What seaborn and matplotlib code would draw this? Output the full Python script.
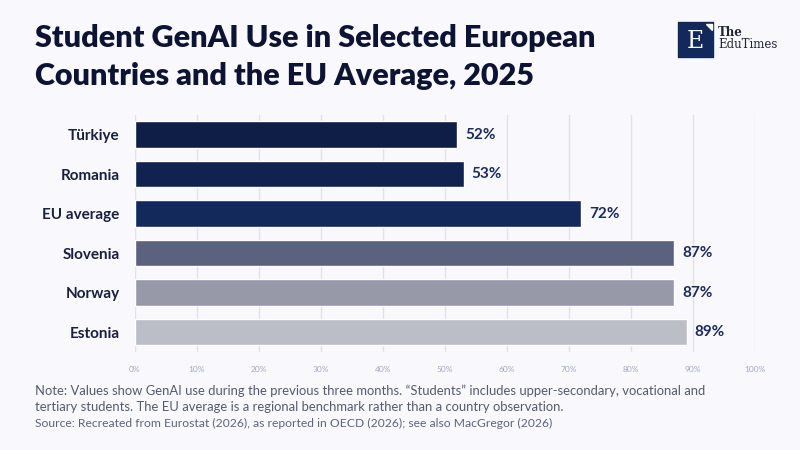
import pandas as pd
import matplotlib.pyplot as plt
import seaborn as sns
from matplotlib.patches import Rectangle, Polygon

countries = ['Türkiye', 'Romania', 'EU average', 'Slovenia', 'Norway', 'Estonia']
share = [52, 53, 72, 87, 87, 89]
bar_colors = ['#0e1e47', '#102350', '#13295c', '#5b627e', '#9799a8', '#bbbec6']
ticks = [0, 10, 20, 30, 40, 50, 60, 70, 80, 90, 100]

df = pd.DataFrame({'country': countries, 'share': share})

bg = '#f8f8fd'
sns.set_theme(style='white')
plt.rcParams['font.family'] = ['Lato', 'DejaVu Sans']

fig = plt.figure(figsize=(8, 4.5), dpi=100, facecolor=bg)
ax = fig.add_axes([0.16875, 0.218, 0.775, 0.527], facecolor=bg)

sns.barplot(data=df, x='share', y='country', hue='country', palette=bar_colors,
            order=countries, hue_order=countries, width=0.67, legend=False, ax=ax,
            saturation=1)

ax.set_xlim(0, 100)
ax.set_ylim(5.5, -0.5)
ax.set_xticks(ticks)
ax.set_xticklabels([f'{t}%' for t in ticks], fontsize=6, color='#a3a8c0')
ax.grid(axis='x', color='#e1e1ea', linewidth=1)
ax.set_axisbelow(True)
for s in ax.spines.values():
    s.set_visible(False)
ax.tick_params(axis='x', length=0, pad=10)
ax.tick_params(axis='y', length=0, pad=11)
for lab in ax.get_yticklabels():
    lab.set_fontweight('bold')
    lab.set_fontsize(11)
    lab.set_color('#1a1f3d')
ax.set_xlabel('')
ax.set_ylabel('')

for i, v in enumerate(share):
    ax.text(v + 1.3, i, f'{v}%', va='center', ha='left', fontsize=11,
            fontweight='bold', color='#1c2b5c')

fig.text(0.044, 0.915, 'Student GenAI Use in Selected European', fontsize=22,
         fontweight='heavy', color='#0d1433', va='center')
fig.text(0.044, 0.832, 'Countries and the EU Average, 2025', fontsize=22,
         fontweight='heavy', color='#0d1433', va='center')

# logo
fig.patches.append(Rectangle((678 / 800, 1 - 57 / 450), 35 / 800, 35 / 450,
                             transform=fig.transFigure, color='#13295c'))
fig.patches.append(Polygon([(706 / 800, 1 - 24 / 450), (712 / 800, 1 - 24 / 450),
                            (712 / 800, 1 - 30 / 450)], closed=True,
                           transform=fig.transFigure, color='white'))
fig.text(695 / 800, 1 - 41 / 450, 'E', fontsize=17, family='DejaVu Serif',
         color='white', ha='center', va='center')
fig.text(718 / 800, 1 - 32 / 450, 'The', fontsize=8.5, family='DejaVu Serif',
         fontweight='bold', color='#222436', va='center')
fig.text(718 / 800, 1 - 45 / 450, 'EduTimes', fontsize=8.5, family='DejaVu Serif',
         color='#222436', va='center')

fig.text(0.044, 1 - 391 / 450,
         'Note: Values show GenAI use during the previous three months. \u201cStudents\u201d includes upper-secondary, vocational and',
         fontsize=9.35, color='#545a70', va='center')
fig.text(0.044, 1 - 407 / 450,
         'tertiary students. The EU average is a regional benchmark rather than a country observation.',
         fontsize=9.35, color='#545a70', va='center')
fig.text(0.044, 1 - 423 / 450,
         'Source: Recreated from Eurostat (2026), as reported in OECD (2026); see also MacGregor (2026)',
         fontsize=8.7, color='#5d6382', va='center')

fig.savefig('out.png', dpi=100, facecolor=bg)
